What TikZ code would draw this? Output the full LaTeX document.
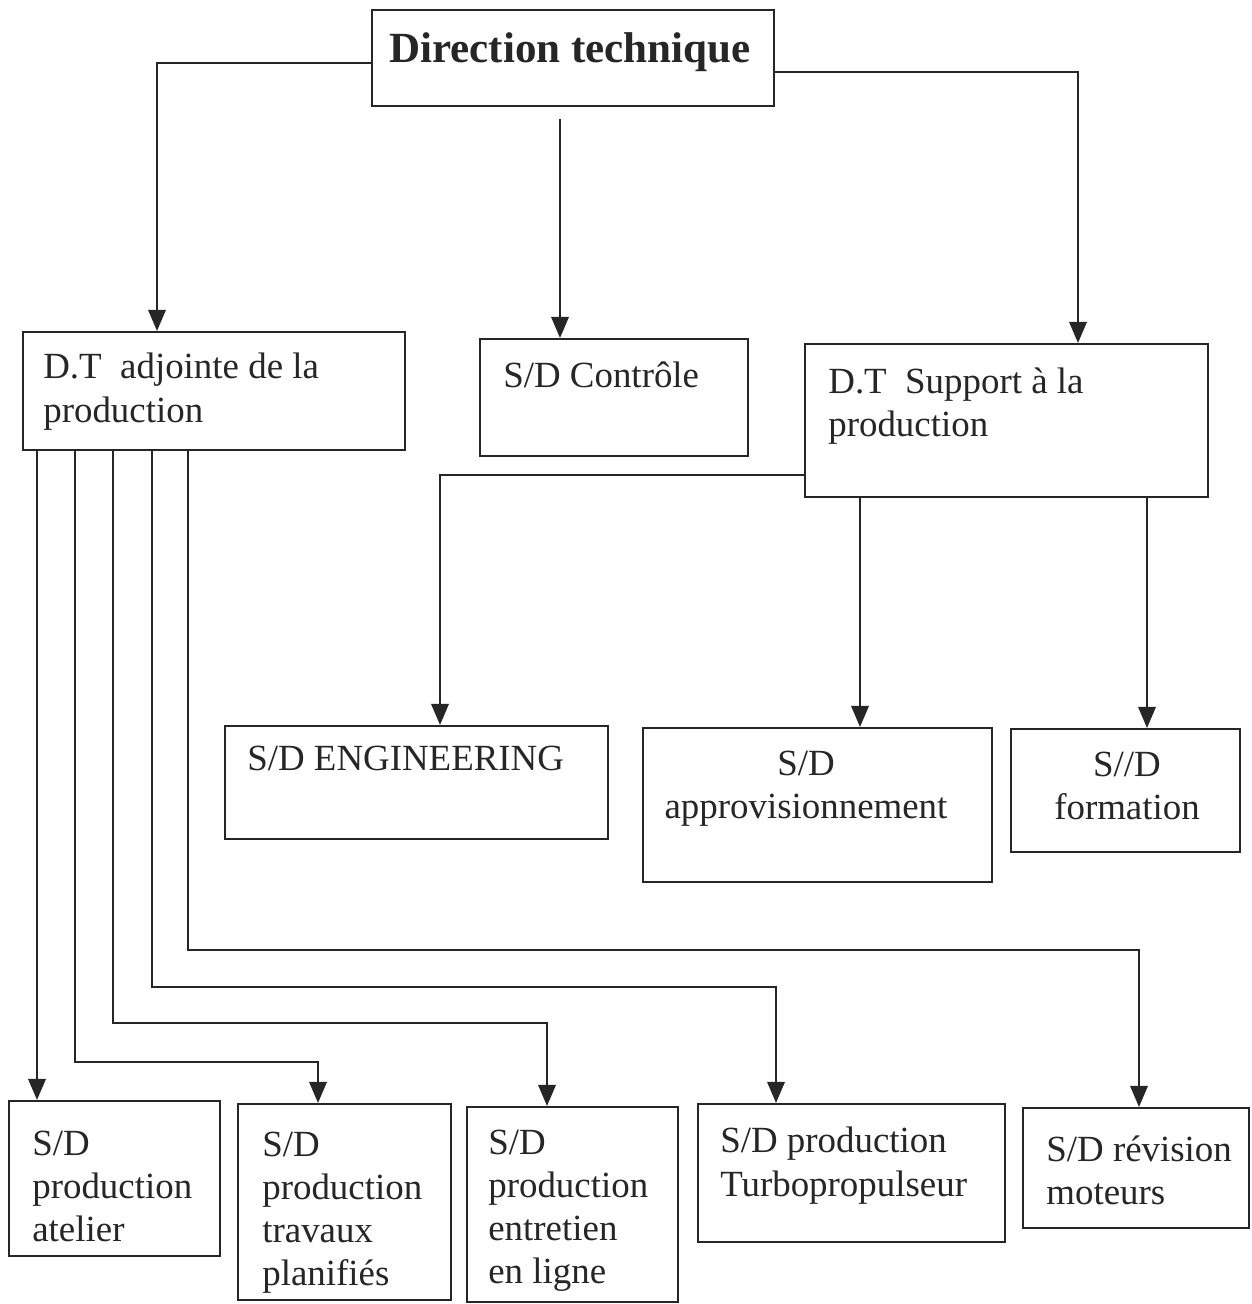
\documentclass[tikz,border=0pt]{standalone}
\usepackage{fontspec}
\setmainfont{Liberation Serif}
\usetikzlibrary{arrows.meta,fit}
\begin{document}
\begin{tikzpicture}[x=0.02cm,y=-0.02cm,
  box/.style={draw=black!85,line width=1.2pt,inner sep=0pt},
  txt/.style={inner sep=0pt,font=\fontsize{21}{24.5}\selectfont,text=black!85,align=left,anchor=north west},
  ctxt/.style={txt,align=center,anchor=north},
  arr/.style={draw=black!85,line width=1pt,-{Triangle[length=12pt,width=10pt]}}]
\useasboundingbox[fill=white] (0,0) rectangle (1251,1304);
% boxes
\node[box,fit={(372,10)(774,106)}] (dt) {};
\node[box,fit={(23,332)(405,450)}] (dta) {};
\node[box,fit={(480,339)(748,456)}] (ctl) {};
\node[box,fit={(805,344)(1208,497)}] (sup) {};
\node[box,fit={(225,726)(608,839)}] (eng) {};
\node[box,fit={(643,728)(992,882)}] (appro) {};
\node[box,fit={(1011,729)(1240,852)}] (form) {};
\node[box,fit={(9,1101)(220,1256)}] (atel) {};
\node[box,fit={(238,1104)(451,1300)}] (trav) {};
\node[box,fit={(467,1107)(678,1302)}] (entr) {};
\node[box,fit={(698,1104)(1005,1242)}] (turbo) {};
\node[box,fit={(1023,1108)(1249,1228)}] (rev) {};
% texts
\node[inner sep=0pt,anchor=base,text=black!85,font=\bfseries\fontsize{24.5}{29}\selectfont] (dtt) at (570,63) {Direction technique};
\node[txt] (dtat) at (43,353) {D.T\ \ adjointe de la\\production};
\node[txt] (ctlt) at (503,361) {S/D Contrôle};
\node[txt] (supt) at (828,367) {D.T\ \ Support à la\\production};
\node[txt] (engt) at (247,746) {S/D ENGINEERING};
\node[ctxt] (approt) at (806,751) {S/D\\approvisionnement};
\node[ctxt] (formt) at (1127,752) {S//D\\formation};
\node[txt] (atelt) at (32,1131) {S/D\\production\\atelier};
\node[txt] (travt) at (262,1132) {S/D\\production\\travaux\\planifiés};
\node[txt] (entrt) at (488,1130) {S/D\\production\\entretien\\en ligne};
\node[txt] (turbot) at (720,1127) {S/D production\\Turbopropulseur};
\node[txt] (revt) at (1046,1135) {S/D révision\\moteurs};
% connectors
\draw[arr] (dt.west |- 0,63) -| (157,0 |- dta.north);
\draw[arr,shorten <=7pt] (560,0 |- dt.south) -- (560,0 |- ctl.north);
\draw[arr] (dt.east |- 0,72) -| (1078,0 |- sup.north);
\draw[arr] (sup.west |- 0,475) -| (440,0 |- eng.north);
\draw[arr] (860,0 |- sup.south) -- (860,0 |- appro.north);
\draw[arr] (1147,0 |- sup.south) -- (1147,0 |- form.north);
\draw[arr] (37,0 |- dta.south) -- (37,0 |- atel.north);
\draw[arr] (75,0 |- dta.south) |- (318,1062) -- (318,0 |- trav.north);
\draw[arr] (113,0 |- dta.south) |- (547,1023) -- (547,0 |- entr.north);
\draw[arr] (152,0 |- dta.south) |- (776,987) -- (776,0 |- turbo.north);
\draw[arr] (188,0 |- dta.south) |- (1139,950) -- (1139,0 |- rev.north);
\end{tikzpicture}
\end{document}
